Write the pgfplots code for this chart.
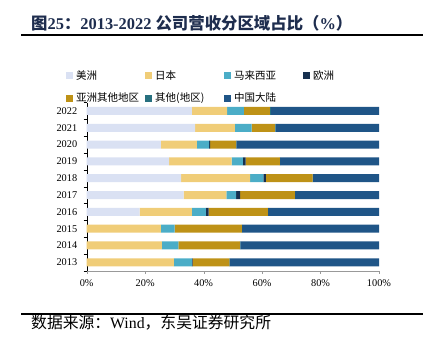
\documentclass[border=0pt]{standalone}
\usepackage{pgfplots}
\pgfplotsset{compat=1.18}
\usepackage{fontspec}
\setmainfont{Liberation Serif}
\newfontfamily\cjk{Noto Sans CJK SC}
\definecolor{cA}{HTML}{DAE1F3}
\definecolor{cB}{HTML}{F0CD78}
\definecolor{cC}{HTML}{4BADC7}
\definecolor{cD}{HTML}{17304F}
\definecolor{cE}{HTML}{BE9217}
\definecolor{cF}{HTML}{27707F}
\definecolor{cG}{HTML}{1F5587}
\definecolor{titlec}{HTML}{1E2D4E}
\newcommand{\legent}[1]{\makebox[72pt][l]{\hspace{3pt}\cjk #1}}
\begin{document}
\begin{tikzpicture}
\useasboundingbox (0,0) rectangle (433pt,351pt);
\node[anchor=west,text=titlec,inner sep=0pt] at (31pt,328pt) {\fontsize{16.4}{18}\selectfont{\cjk\bfseries 图}{\bfseries 25}{\cjk\bfseries ：}{\bfseries 2013-2022 }{\cjk\bfseries 公司营收分区域占比（}{\bfseries\%}{\cjk\bfseries ）}};
\draw[line width=1.3pt] (21pt,316pt) -- (423pt,316pt);
\draw[line width=1.3pt] (21pt,37pt) -- (423pt,37pt);
\node[anchor=west,inner sep=0pt] at (31pt,28.7pt) {\fontsize{15.8}{17}\selectfont{\cjk 数据来源：}Wind{\cjk ，东吴证券研究所}};
\begin{axis}[
  at={(86.7pt,80.3pt)}, anchor=south west,
  scale only axis, width=292.3pt, height=168.1pt,
  xbar stacked, bar width=8pt,
  xmin=0, xmax=100, ymin=-0.5, ymax=9.5,
  axis x line*=bottom, axis y line*=left,
  x axis line style={color=gray!80,-}, y axis line style={black,-},
  xtick={0,20,40,60,80,100},
  xticklabels={0\%,20\%,40\%,60\%,80\%,100\%},
  xtick style={gray!80},
  tick align=outside, major tick length=3pt,
  ytick={-0.5,0.5,...,9.5}, yticklabels={},
  ytick style={black},
  extra y ticks={0,1,2,3,4,5,6,7,8,9},
  extra y tick labels={2013,2014,2015,2016,2017,2018,2019,2020,2021,2022},
  extra y tick style={tick style={draw=none}},
  tick label style={font=\fontsize{10.3}{12}\selectfont},
  yticklabel style={xshift=-3pt},
  xticklabel style={yshift=-2pt},
  legend columns=4,
  legend image code/.code={\fill[#1,draw=none] (0pt,-3.5pt) rectangle (7pt,3.5pt);},
  legend style={at={(-0.0708,1.194)}, anchor=north west, draw=none, fill=none,
    inner sep=0pt, nodes={inner sep=0pt}, row sep=12.5pt,
    font=\fontsize{10.5}{12}\selectfont},
  legend cell align=left,
]
\addplot[fill=cA,draw=none] coordinates {(0,0) (0,1) (0,2) (18.1,3) (33.2,4) (32.3,5) (28.2,6) (25.4,7) (37.1,8) (36.0,9)};
\addlegendentry{\legent{美洲}}
\addplot[fill=cB,draw=none] coordinates {(29.8,0) (25.7,1) (25.4,2) (17.9,3) (14.6,4) (23.6,5) (21.4,6) (12.3,7) (13.6,8) (12.0,9)};
\addlegendentry{\legent{日本}}
\addplot[fill=cC,draw=none] coordinates {(6.2,0) (5.7,1) (4.7,2) (4.8,3) (3.3,4) (4.5,5) (3.8,6) (4.2,7) (5.7,8) (5.8,9)};
\addlegendentry{\legent{马来西亚}}
\addplot[fill=cD,draw=none] coordinates {(0.2,0) (0,1) (0,2) (0.9,3) (1.4,4) (0.9,5) (1.0,6) (0.3,7) (0,8) (0,9)};
\addlegendentry{\legent{欧洲}}
\addplot[fill=cE,draw=none] coordinates {(12.6,0) (21.0,1) (23.0,2) (20.3,3) (18.7,4) (16.0,5) (11.7,6) (8.9,7) (8.0,8) (8.9,9)};
\addlegendentry{\legent{亚洲其他地区}}
\addplot[fill=cF,draw=none] coordinates {(0.2,0) (0.2,1) (0.1,2) (0.1,3) (0.1,4) (0.1,5) (0.1,6) (0.1,7) (0.2,8) (0.3,9)};
\addlegendentry{\legent{其他(地区)}}
\addplot[fill=cG,draw=none] coordinates {(51.0,0) (47.4,1) (46.8,2) (37.9,3) (28.7,4) (22.6,5) (33.8,6) (48.8,7) (35.4,8) (37.0,9)};
\addlegendentry{\legent{中国大陆}}
\end{axis}
\end{tikzpicture}
\end{document}
